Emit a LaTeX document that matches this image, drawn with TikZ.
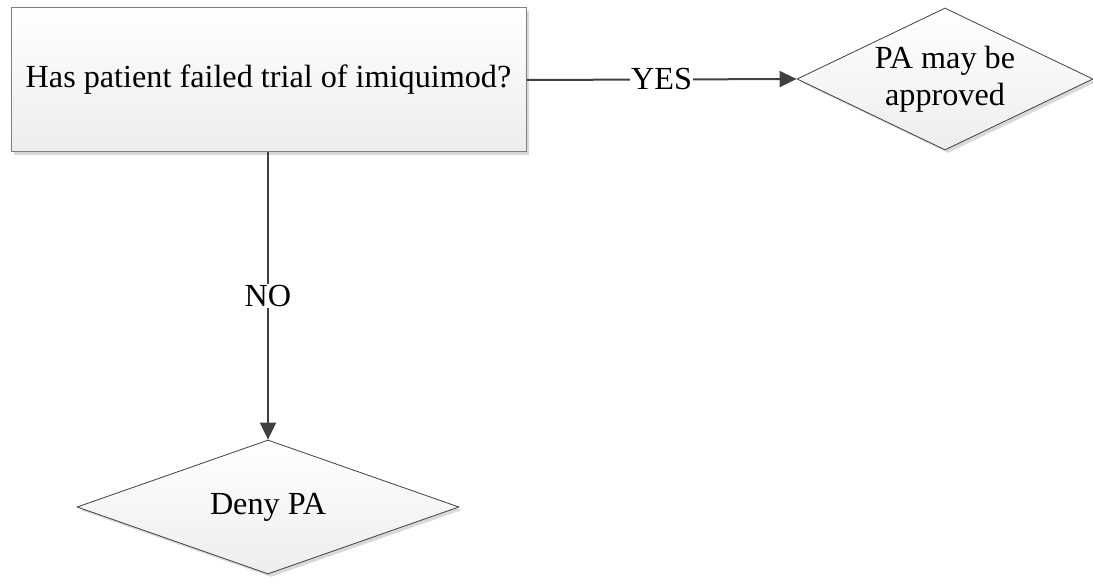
\documentclass[tikz,border=0pt]{standalone}
\usepackage{fontspec}
\setmainfont{Liberation Serif}
\usetikzlibrary{shapes.geometric,arrows.meta,shadows}
\definecolor{linegray}{HTML}{404040}
\definecolor{bordergray}{HTML}{7F7F7F}
\definecolor{fillbottom}{HTML}{EDEDED}
\tikzset{
  boxshadow/.style={drop shadow={shadow xshift=3pt,shadow yshift=-3pt,fill=black!25,opacity=0.6}},
  procbox/.style={rectangle,draw=bordergray,line width=1pt,top color=white,bottom color=fillbottom,
    minimum width=515pt,minimum height=144pt,inner sep=0pt,boxshadow,
    font=\fontsize{32.2}{37}\selectfont},
  decbox/.style={diamond,draw=linegray,line width=0.8pt,top color=white,bottom color=fillbottom,
    inner sep=0pt,boxshadow,align=center,font=\fontsize{32.2}{37}\selectfont},
  conn/.style={draw=linegray,line width=2pt,-{Triangle[length=17pt,width=16pt]}},
  lbl/.style={fill=white,inner sep=1pt,font=\fontsize{32.2}{37}\selectfont}
}
\begin{document}
\begin{tikzpicture}[x=1pt,y=-1pt]
\useasboundingbox (0,0) rectangle (1093,585);
\node[procbox] (q) at (268.5,80) {Has patient failed trial of imiquimod?};
\node[decbox,aspect=2.08,minimum width=296pt,minimum height=142pt] (yes) at (945,79) {PA may be\\approved};
\node[decbox,aspect=2.85,minimum width=382pt,minimum height=134pt] (no) at (268,507) {Deny PA};
\draw[conn] (q.east) -- node[lbl,pos=0.5] {YES} (yes.west);
\draw[conn] (q.south -| no.north) -- node[lbl] {NO} (no.north);
\end{tikzpicture}
\end{document}
